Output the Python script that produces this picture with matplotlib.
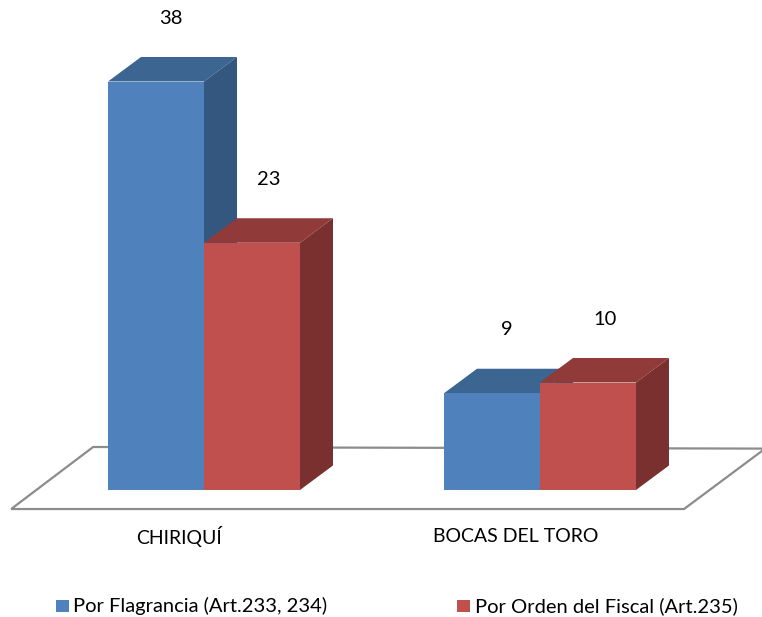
import numpy as np
import matplotlib.pyplot as plt
from matplotlib.patches import Polygon, Rectangle

# Data
categories = ["CHIRIQUÍ", "BOCAS DEL TORO"]
series_names = ["Por Flagrancia (Art.233, 234)", "Por Orden del Fiscal (Art.235)"]
flagrancia = [38, 9]
orden_fiscal = [23, 10]

# Colours (front, top, side)
BLUE = ("#4F81BD", "#3D6591", "#33577F")
RED = ("#C0504D", "#903B39", "#7A302E")

BAR_W = 96 / 336          # width of one bar in category units
DX, DY = 33 / 336, 2.28   # oblique depth offset (x units, value units)

plt.rcParams['font.family'] = ['Lato', 'DejaVu Sans']

fig = plt.figure(figsize=(7.62, 6.17), dpi=100)
ax = fig.add_axes([0, 0, 1, 1])
ax.set_xlim(-204 / 336, 558 / 336)
ax.set_ylim(-127 / 10.75, 490 / 10.75)
ax.axis('off')

# Floor
floor = Polygon([(-0.574, -1.77), (1.4286, -1.77), (1.67, 3.85), (-0.330, 4.0)],
                closed=True, facecolor='white', edgecolor='#8C8C8C', lw=1.6, zorder=1)
ax.add_patch(floor)


def draw_bar(x0, h, cols):
    front, top, side = cols
    ax.add_patch(Polygon([(x0, h), (x0 + DX, h + DY), (x0 + BAR_W + DX, h + DY), (x0 + BAR_W, h)],
                         closed=True, facecolor=top, edgecolor='none', zorder=2))
    ax.add_patch(Polygon([(x0 + BAR_W, 0), (x0 + BAR_W + DX, DY), (x0 + BAR_W + DX, h + DY), (x0 + BAR_W, h)],
                         closed=True, facecolor=side, edgecolor='none', zorder=2))
    ax.add_patch(Rectangle((x0, 0), BAR_W, h, facecolor=front, edgecolor='none', zorder=3))


xpos = np.arange(len(categories))
for i in xpos:
    draw_bar(i - BAR_W, flagrancia[i], BLUE)
    draw_bar(i, orden_fiscal[i], RED)
    ax.text(i - BAR_W / 2 + 0.045, flagrancia[i] + 5.9, str(flagrancia[i]),
            ha='center', va='center', fontsize=14.5, zorder=5)
    ax.text(i + BAR_W / 2 + 0.05, orden_fiscal[i] + 5.9, str(orden_fiscal[i]),
            ha='center', va='center', fontsize=14.5, zorder=5)
    ax.text(i - 0.073, -4.34, categories[i], ha='center', va='center', fontsize=14)

# Legend
leg_y = -10.8
for (x_sq, x_txt), name, cols in zip([(-0.440, -0.390), (0.753, 0.806)], series_names, [BLUE, RED]):
    ax.add_patch(Rectangle((x_sq, leg_y - 0.58), 0.038, 1.16, facecolor=cols[0], edgecolor='none'))
    ax.text(x_txt, leg_y, name, ha='left', va='center', fontsize=14.5)

fig.savefig('out.png', dpi=100)
